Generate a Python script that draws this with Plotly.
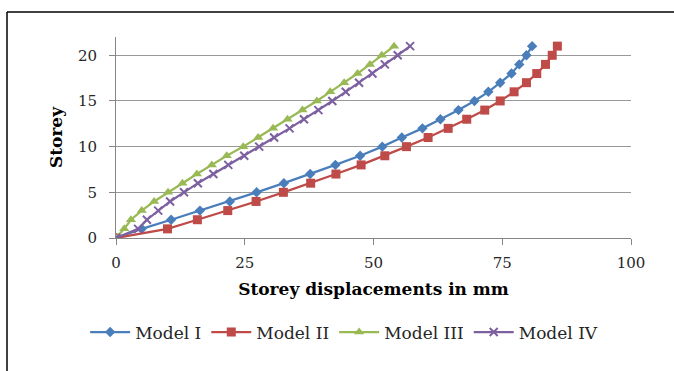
import plotly.graph_objects as go

storeys = list(range(22))
model_1 = [0, 5.0, 10.7, 16.3, 22.1, 27.3, 32.6, 37.7, 42.6, 47.4, 51.7, 55.5,
           59.5, 63.0, 66.5, 69.6, 72.3, 74.6, 76.8, 78.3, 79.7, 80.8]
model_2 = [0, 10.0, 15.8, 21.7, 27.2, 32.5, 37.8, 42.7, 47.6, 52.2, 56.4, 60.6,
           64.5, 68.1, 71.6, 74.6, 77.3, 79.7, 81.7, 83.4, 84.7, 85.7]
model_3 = [0, 1.6, 2.9, 5.0, 7.4, 10.1, 12.9, 15.7, 18.6, 21.5, 24.7, 27.6,
           30.5, 33.3, 36.2, 39.0, 41.6, 44.3, 46.9, 49.3, 51.6, 54.0]
model_4 = [0, 4.3, 6.0, 8.2, 10.5, 13.2, 15.9, 18.9, 21.8, 24.9, 27.8, 30.7,
           33.7, 36.5, 39.3, 42.0, 44.6, 47.2, 49.8, 52.2, 54.7, 57.1]
names = ["Model I", "Model II", "Model III", "Model IV"]
x_ticks = [0, 25, 50, 75, 100]
y_ticks = [0, 5, 10, 15, 20]

series = [model_1, model_2, model_3, model_4]
colors = ["#4A7EBB", "#BE4B48", "#98B954", "#7D60A0"]
symbols = ["diamond", "square", "triangle-up", "x-thin"]
sizes = [8, 9, 9, 8]

fig = go.Figure()
for vals, name, col, sym, sz in zip(series, names, colors, symbols, sizes):
    marker = dict(symbol=sym, size=sz, color=col)
    if sym == "x-thin":
        marker["line"] = dict(color=col, width=2)
    fig.add_trace(go.Scatter(x=vals, y=storeys, name=name, mode="lines+markers",
                             line=dict(color=col, width=2.25), marker=marker))

serif = "DejaVu Serif"
fig.update_layout(
    width=674, height=371,
    margin=dict(l=116, r=43, t=37, b=133),
    paper_bgcolor="white", plot_bgcolor="white",
    showlegend=True,
    legend=dict(orientation="h", x=0.443, xanchor="center", y=-0.47, yanchor="middle",
                font=dict(family=serif, size=17, color="#262626"),
                itemwidth=40, tracegroupgap=0),
    xaxis=dict(range=[0, 100], tickvals=x_ticks, showgrid=False,
               showline=True, linecolor="#868686", linewidth=1,
               ticks="outside", ticklen=6, tickcolor="#868686",
               ticklabelstandoff=5,
               tickfont=dict(family=serif, size=15, color="#262626"),
               title=dict(text="<b>Storey displacements in mm</b>",
                          font=dict(family=serif, size=17, color="#000000"),
                          standoff=12),
               zeroline=False),
    yaxis=dict(range=[0, 22], tickvals=y_ticks, showgrid=True,
               gridcolor="#999999", gridwidth=1,
               showline=True, linecolor="#868686", linewidth=1,
               ticks="outside", ticklen=6, tickcolor="#868686",
               ticklabelstandoff=9,
               tickfont=dict(family=serif, size=15, color="#262626"),
               title=dict(text="<b>Storey</b>",
                          font=dict(family=serif, size=17, color="#000000"),
                          standoff=10),
               zeroline=False),
    shapes=[
        dict(type="line", xref="paper", yref="paper",
             x0=(7 - 116) / 515, x1=(680 - 116) / 515,
             y0=(238 - 12) / 201, y1=(238 - 12) / 201,
             line=dict(color="black", width=1.5)),
        dict(type="line", xref="paper", yref="paper",
             x0=(7 - 116) / 515, x1=(7 - 116) / 515,
             y0=(238 - 12) / 201, y1=(238 - 380) / 201,
             line=dict(color="black", width=1.5)),
    ],
)

fig.write_html("out.html")
